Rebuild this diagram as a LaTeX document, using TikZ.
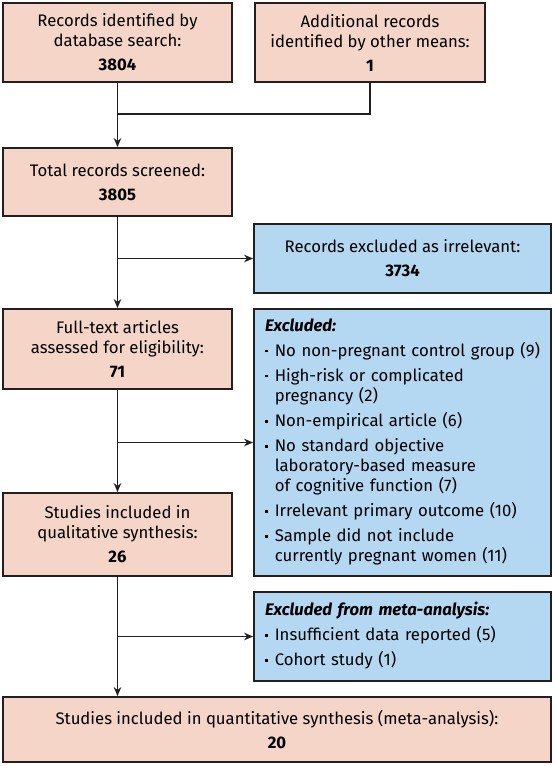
\documentclass[tikz,border=0pt]{standalone}
\usepackage{fontspec}
\setmainfont{Fira Sans}
\usetikzlibrary{arrows.meta}
\definecolor{pinkfill}{HTML}{F4D5C8}
\definecolor{bluefill}{HTML}{B5D8F2}
\definecolor{edgecol}{HTML}{231F20}
\newcommand\bulmark{\raisebox{3.8pt}{\rule{2.8pt}{2.8pt}}}
\begin{document}
\begin{tikzpicture}[x=1pt,y=-1pt,
  basebox/.style={draw=edgecol, line width=1.8pt, inner sep=0pt,
    font=\fontsize{16.7}{20}\selectfont},
  pinkbox/.style={basebox, fill=pinkfill, align=center},
  bluebox/.style={basebox, fill=bluefill},
  conn/.style={draw=edgecol, line width=1.3pt},
  arr/.style={conn, -{Stealth[length=9pt,width=7.5pt]}}]
\useasboundingbox (0,0) rectangle (555,766);

\node[pinkbox, minimum width=229pt, minimum height=79pt] (box1) at (117.5,42.5)
  {Records identified by\\database search:\\[4pt]\textbf{3804}};
\node[pinkbox, minimum width=230pt, minimum height=79pt] (box2) at (370,42.5)
  {Additional records\\identified by other means:\\[4pt]\textbf{1}};
\node[pinkbox, minimum width=229pt, minimum height=68pt] (total) at (117.5,182)
  {Total records screened:\\[4pt]\textbf{3805}};
\node[bluebox, align=center, minimum width=297pt, minimum height=69pt] (excl1) at (402.5,258.5)
  {Records excluded as irrelevant:\\[4pt]\textbf{3734}};
\node[pinkbox, minimum width=229pt, minimum height=80pt] (full) at (117.5,349)
  {Full-text articles\\assessed for eligibility:\\[4pt]\textbf{71}};
\node[bluebox, align=left, text width=275pt, inner xsep=11pt, minimum height=267pt] (excl2) at (402.5,442.5)
  {\begin{tabular}{@{}l@{\hspace{7pt}}l@{}}
   \multicolumn{2}{@{}l}{\bfseries\itshape Excluded:}\\[5pt]
   \bulmark & No non-pregnant control group (9)\\[5pt]
   \bulmark & High-risk or complicated\\
            & pregnancy (2)\\[5pt]
   \bulmark & Non-empirical article (6)\\[5pt]
   \bulmark & No standard objective\\
            & laboratory-based measure\\
            & of cognitive function (7)\\[5pt]
   \bulmark & Irrelevant primary outcome (10)\\[5pt]
   \bulmark & Sample did not include\\
            & currently pregnant women (11)
   \end{tabular}};
\node[pinkbox, minimum width=229pt, minimum height=83pt] (qual) at (117.5,534.5)
  {Studies included in\\qualitative synthesis:\\[4pt]\textbf{26}};
\node[bluebox, align=left, text width=275pt, inner xsep=11pt, minimum height=89pt] (excl3) at (402.5,636.5)
  {\begin{tabular}{@{}l@{\hspace{7pt}}l@{}}
   \multicolumn{2}{@{}l}{\bfseries\itshape Excluded from meta-analysis:}\\[5pt]
   \bulmark & Insufficient data reported (5)\\[5pt]
   \bulmark & Cohort study (1)
   \end{tabular}};
\node[pinkbox, minimum width=548pt, minimum height=65pt] (quant) at (277,729.5)
  {Studies included in quantitative synthesis (meta-analysis):\\[4pt]\textbf{20}};

\coordinate (j1) at (117.5,114);
\coordinate (b1) at (117.5,258.5);
\coordinate (b2) at (117.5,442.5);
\coordinate (b3) at (117.5,636.5);

\draw[conn] (box2.south) |- (j1);
\draw[arr] (box1.south) -- (total.north);
\draw[arr] (total.south) -- (full.north);
\draw[arr] (b1) -- (excl1.west);
\draw[arr] (full.south) -- (qual.north);
\draw[arr] (b2) -- (excl2.west);
\draw[arr] (qual.south) -- (qual.south |- quant.north);
\draw[arr] (b3) -- (excl3.west);
\end{tikzpicture}
\end{document}
